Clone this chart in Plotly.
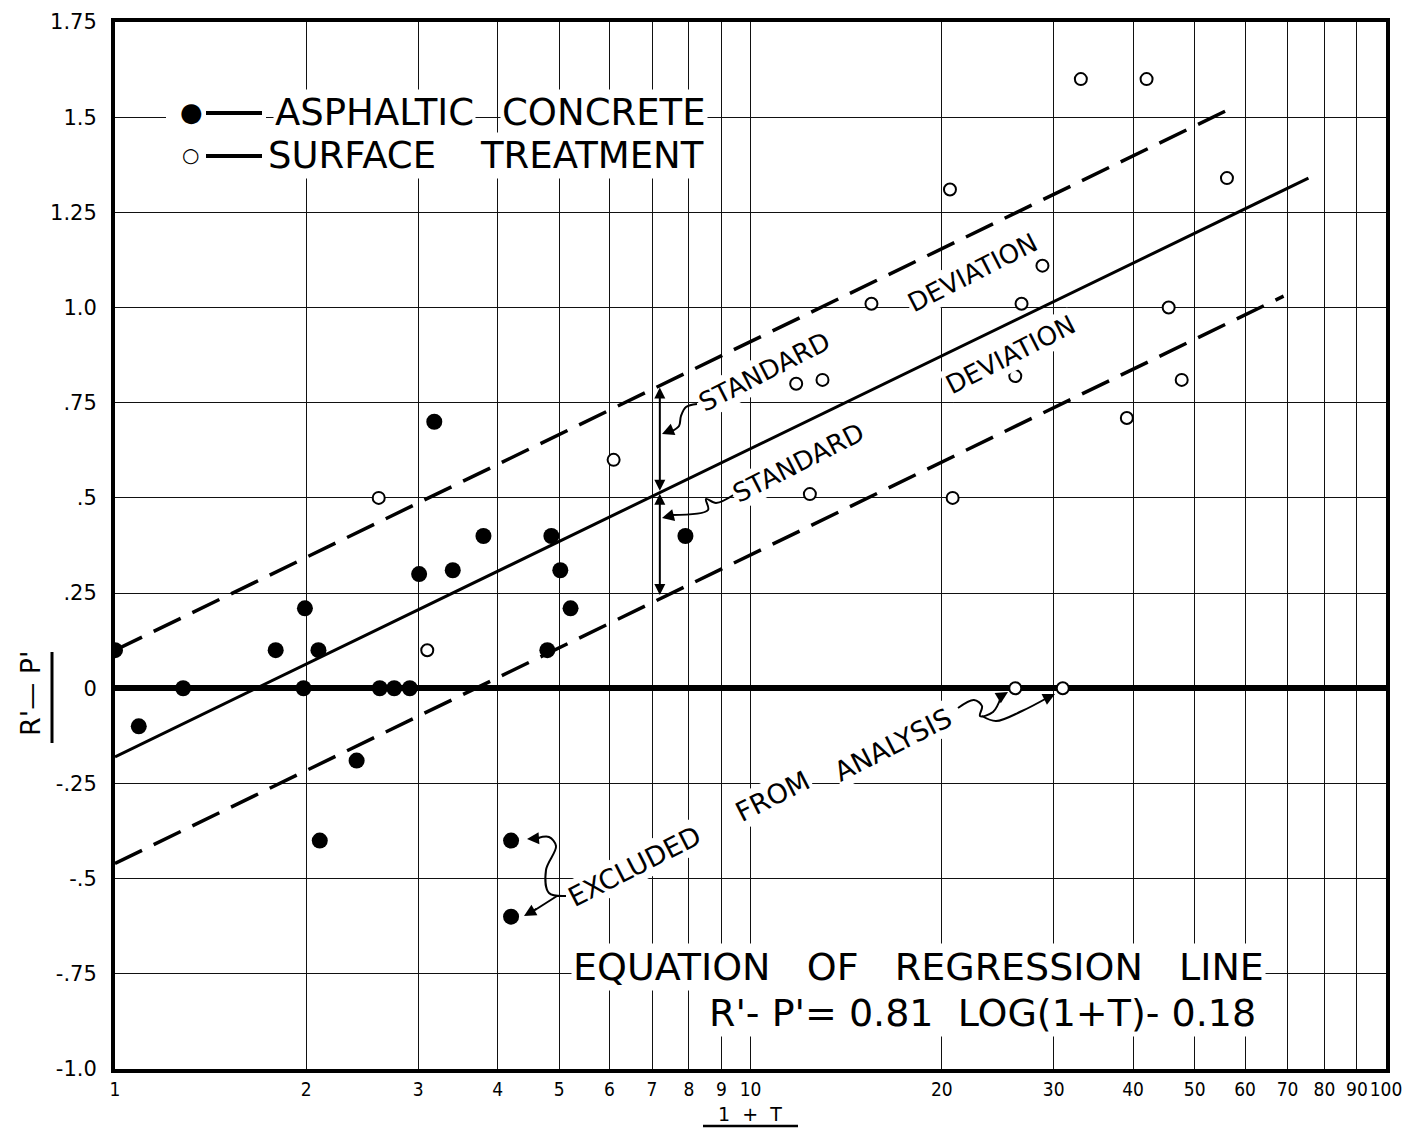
import plotly.graph_objects as go
import math

# ---------------- data ----------------
# Asphaltic concrete (filled circles)
ac_x = [1.0, 1.09, 1.28, 1.79, 1.99, 1.98, 2.09, 2.10, 2.40, 2.61, 2.75, 2.91,
        3.01, 3.18, 3.40, 3.80, 4.79, 4.86, 5.02, 5.21, 7.90]
ac_y = [0.10, -0.10, 0.0, 0.10, 0.21, 0.0, 0.10, -0.40, -0.19, 0.0, 0.0, 0.0,
        0.30, 0.70, 0.31, 0.40, 0.10, 0.40, 0.31, 0.21, 0.40]
ac_excl_x = [4.20, 4.20]
ac_excl_y = [-0.40, -0.60]

# Surface treatment (open circles)
st_x = [2.60, 3.10, 6.09, 11.8, 12.4, 12.98, 15.5, 20.6, 20.8, 26.1, 26.7, 28.8,
        33.1, 39.1, 42.0, 45.5, 47.7, 56.2]
st_y = [0.50, 0.10, 0.60, 0.80, 0.51, 0.81, 1.01, 1.31, 0.50, 0.82, 1.01, 1.11,
        1.60, 0.71, 1.60, 1.00, 0.81, 1.34]
st_excl_x = [26.1, 31.0]
st_excl_y = [0.0, 0.0]

# Regression line and +/- one standard deviation (end points)
reg_x = [1.0, 75.5]
reg_y = [-0.18, 1.34]
upper_x = [1.0, 56.5]
upper_y = [0.10, 1.52]
lower_x = [1.0, 69.0]
lower_y = [-0.46, 1.03]

x_tickvals = [1, 2, 3, 4, 5, 6, 7, 8, 9, 10, 20, 30, 40, 50, 60, 70, 80, 90, 100]
x_ticktext = ["1", "2", "3", "4", "5", "6", "7", "8", "9", "10", "20", "30", "40",
              "50", "60", "70", "80", "90", "100"]
y_tickvals = [1.75, 1.5, 1.25, 1.0, 0.75, 0.5, 0.25, 0, -0.25, -0.5, -0.75, -1.0]
y_ticktext = ["1.75", "1.5", "1.25", "1.0", ".75", ".5", ".25", "0", "-.25", "-.5",
              "-.75", "-1.0"]

# ---------------- geometry (page pixels; the page body adds an 8px offset) ----------------
OFF = 8
W, H = 1426 - 2 * OFF, 1136 - 2 * OFF
L, R, T, B = 115, 1386, 22, 1069          # plot area in screenshot pixels
FONT = "DejaVu Sans"


def px_x(p):
    return 10 ** (2 * (p - L) / (R - L))


def px_y(p):
    return 1.75 - 2.75 * (p - T) / (B - T)


def pap_x(p):
    return (p - L) / (R - L)


def pap_y(p):
    return (B - p) / (B - T)


fig = go.Figure()

# regression and standard deviation lines
fig.add_trace(go.Scatter(x=reg_x, y=reg_y, mode="lines",
                         line=dict(color="black", width=3), hoverinfo="skip"))
fig.add_trace(go.Scatter(x=upper_x, y=upper_y, mode="lines",
                         line=dict(color="black", width=3.5, dash="30px,13px"),
                         hoverinfo="skip"))
fig.add_trace(go.Scatter(x=lower_x, y=lower_y, mode="lines",
                         line=dict(color="black", width=3.5, dash="30px,13px"),
                         hoverinfo="skip"))

# leader curves (decoration)
leaders = [
    [(697, 404), (686, 407), (681, 416), (679, 426), (672, 431)],
    [(735, 494), (716, 503), (706, 499), (708, 510), (672, 515)],
    [(566, 896), (549, 893), (546, 870), (556, 846), (549, 837), (538, 838)],
    [(557, 896), (535, 910)],
    [(958, 708), (974, 700), (982, 706), (980, 716), (993, 712), (1001, 697)],
    [(982, 716), (996, 721), (1022, 711), (1047, 698)],
]
for pts in leaders:
    fig.add_trace(go.Scatter(x=[px_x(p[0]) for p in pts], y=[px_y(p[1]) for p in pts],
                             mode="lines", line=dict(color="black", width=2, shape="spline"),
                             hoverinfo="skip"))

# data points
fig.add_trace(go.Scatter(x=ac_x, y=ac_y, mode="markers", name="ASPHALTIC CONCRETE",
                         marker=dict(symbol="circle", size=16, color="black")))
fig.add_trace(go.Scatter(x=ac_excl_x, y=ac_excl_y, mode="markers",
                         marker=dict(symbol="circle", size=16, color="black")))
fig.add_trace(go.Scatter(x=st_x, y=st_y, mode="markers", name="SURFACE TREATMENT",
                         marker=dict(symbol="circle", size=12, color="white",
                                     line=dict(color="black", width=2))))
fig.add_trace(go.Scatter(x=st_excl_x, y=st_excl_y, mode="markers",
                         marker=dict(symbol="circle", size=12, color="white",
                                     line=dict(color="black", width=2))))

annotations = []


def txt(text, px, py, size, angle=0, bg="white", pad=1):
    annotations.append(dict(text=text, x=pap_x(px), y=pap_y(py), xref="paper", yref="paper",
                            showarrow=False, textangle=angle, bgcolor=bg, borderpad=pad,
                            font=dict(family=FONT, size=size, color="black"),
                            xanchor="center", yanchor="middle"))


# legend
txt("ASPHALTIC", 374, 112, 37)
txt("CONCRETE", 604, 112, 37)
txt("SURFACE", 352, 155, 37)
txt("TREATMENT", 592, 155, 37)
txt("\u25cf", 191, 112, 26)
txt("\u25cb", 190, 155, 20)

# rotated labels
ang = -27
txt("STANDARD", 764, 372, 26, ang)
txt("DEVIATION", 972, 273, 26, ang)
txt("STANDARD", 798, 463, 26, ang)
txt("DEVIATION", 1010, 355, 26, ang)
txt("EXCLUDED", 634, 866, 27, ang)
txt("FROM", 772, 796, 27, ang)
txt("ANALYSIS", 893, 744, 27, ang)

# equation
txt("EQUATION   OF   REGRESSION   LINE", 918, 967, 38)
txt("R'- P'= 0.81  LOG(1+T)- 0.18", 982, 1013, 38)

# axis titles
txt("R'\u2014 P'", 30, 694, 27, -90, bg="rgba(0,0,0,0)")
txt("1  +  T", 750, 1114, 19, bg="rgba(0,0,0,0)", pad=0)

# arrowheads of leaders
def head(px, py, ax, ay):
    annotations.append(dict(text="", x=math.log10(px_x(px)), y=px_y(py), xref="x", yref="y",
                            showarrow=True, arrowhead=2, arrowsize=1.2, arrowwidth=2,
                            arrowcolor="black", ax=ax, ay=ay))


head(662, 434, 12, -5)
head(662, 518, 12, -3)
head(527, 839, 14, -1)
head(524, 916, 14, -8)
head(1008, 692, -10, 6)
head(1055, 694, -12, 6)

# vertical standard deviation arrows at x = 7.2
sd_x = math.log10(7.2)
for y_from, y_to in [(0.515, 0.79), (0.515, 0.245)]:
    annotations.append(dict(text="", x=sd_x, y=y_to, xref="x", yref="y", axref="x", ayref="y",
                            ax=sd_x, ay=y_from, showarrow=True, arrowhead=2, startarrowhead=2,
                            arrowside="end+start", arrowsize=1.1, startarrowsize=1.1,
                            arrowwidth=2, arrowcolor="black", standoff=0, startstandoff=0))

shapes = [
    # white gap behind legend keys
    dict(type="rect", xref="paper", yref="paper", x0=pap_x(166), x1=pap_x(266),
         y0=pap_y(124), y1=pap_y(100), fillcolor="white", line=dict(width=0), layer="above"),
    # legend key lines
    dict(type="line", xref="paper", yref="paper", x0=pap_x(206), x1=pap_x(262),
         y0=pap_y(113), y1=pap_y(113), line=dict(color="black", width=4), layer="above"),
    dict(type="line", xref="paper", yref="paper", x0=pap_x(206), x1=pap_x(262),
         y0=pap_y(156), y1=pap_y(156), line=dict(color="black", width=4), layer="above"),
    # underline of axis titles
    dict(type="line", xref="paper", yref="paper", x0=pap_x(52), x1=pap_x(52),
         y0=pap_y(652), y1=pap_y(743), line=dict(color="black", width=3)),
    dict(type="line", xref="paper", yref="paper", x0=pap_x(703), x1=pap_x(798),
         y0=pap_y(1126), y1=pap_y(1126), line=dict(color="black", width=2.5)),
]

axis_common = dict(showgrid=True, gridcolor="#111", gridwidth=1.3, showline=True,
                   linecolor="black", linewidth=4, mirror=True, ticks="",
                   automargin=False, tickangle=0)

fig.update_layout(
    width=W, height=H,
    margin=dict(l=L - OFF, r=W - (R - OFF), t=T - OFF, b=H - (B - OFF), autoexpand=False),
    paper_bgcolor="white", plot_bgcolor="white",
    showlegend=False,
    xaxis=dict(type="log", range=[0, 2], tickvals=x_tickvals, ticktext=x_ticktext,
               zeroline=False, ticklabelstandoff=0,
               tickfont=dict(family="DejaVu Sans Condensed", size=19, color="black"),
               **axis_common),
    yaxis=dict(range=[-1.0, 1.75], tickvals=y_tickvals, ticktext=y_ticktext,
               zeroline=True, zerolinecolor="black", zerolinewidth=6,
               ticklabelstandoff=10,
               tickfont=dict(family=FONT, size=21, color="black"),
               **axis_common),
    annotations=annotations,
    shapes=shapes,
)

fig.write_html("out.html")
